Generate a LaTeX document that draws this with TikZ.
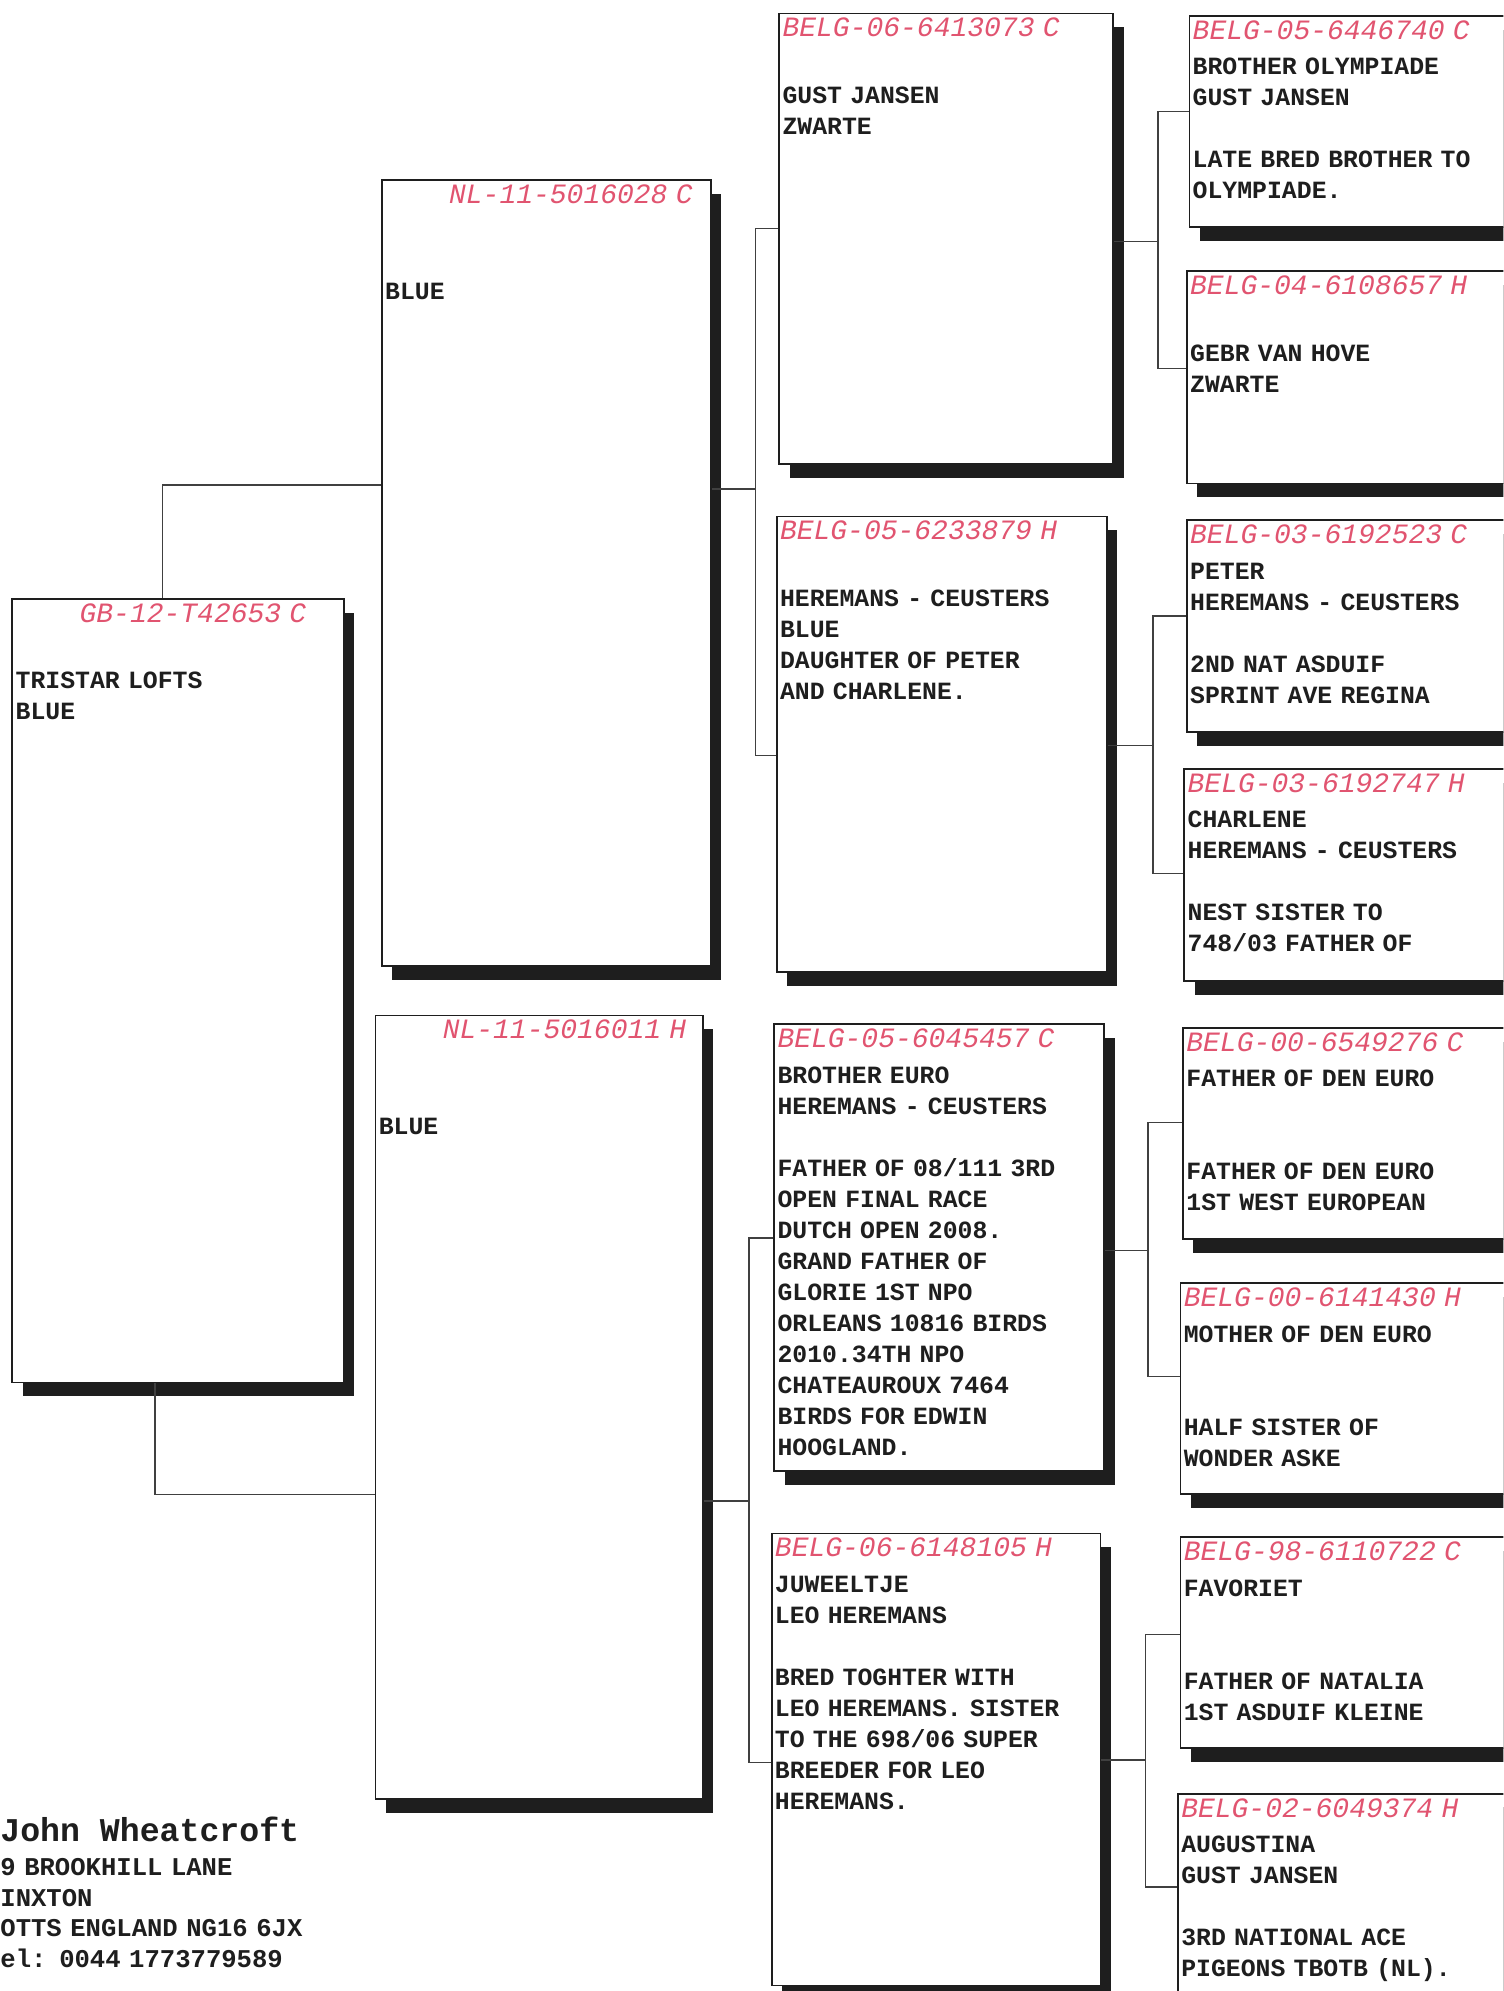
\documentclass[tikz,border=0pt]{standalone}
\usepackage{fontspec}
\usetikzlibrary{positioning, shadows}

\newfontfamily\pedmono{Liberation Mono}
\definecolor{pedred}{RGB}{225,84,112}
\definecolor{ink}{RGB}{30,30,30}
\newcommand{\bodyfont}{\pedmono\bfseries\fontsize{12.4}{15.5}\selectfont}
\newcommand{\ringno}[1]{{\pedmono\mdseries\itshape\fontsize{14}{15.5}\selectfont\color{pedred}#1}}

\begin{document}
\begin{tikzpicture}[x=0.635pt, y=-0.635pt,
      bird/.style={draw=ink, line width=0.9pt, fill=white, anchor=north west, inner sep=0pt,
        drop shadow={shadow xshift=5.2pt, shadow yshift=-6.8pt, fill=ink, opacity=1}},
      sz/.style 2 args={minimum width=#1*0.635pt, minimum height=#2*0.635pt},
      txt/.style={anchor=base west, inner sep=0pt, text width=190pt, align=left, font=\bodyfont, text=ink},
      link/.style={draw=ink!85, line width=0.7pt}]

    \useasboundingbox (0,0) rectangle (1184,1568);
    \clip (0,0) rectangle (1184,1568);

    % subject and parents
    \node[bird, sz={261}{617}] (subj) at (9,471)   {};
    \node[bird, sz={259}{619}] (sire) at (300,141) {};
    \node[bird, sz={258}{617}] (dam)  at (295,799) {};

    % grandparents
    \node[bird, sz={263}{355}] (ss) at (613,10)   {};
    \node[bird, sz={260}{359}] (sd) at (611,406)  {};
    \node[bird, sz={260}{352}] (ds) at (609,806)  {};
    \node[bird, sz={259}{356}] (dd) at (607,1207) {};

    % great-grandparents (run off the right edge)
    \node[bird, sz={300}{166}] (sss) at (936,12)   {};
    \node[bird, sz={300}{167}] (ssd) at (934,213)  {};
    \node[bird, sz={300}{167}] (sds) at (934,409)  {};
    \node[bird, sz={300}{167}] (sdd) at (932,605)  {};
    \node[bird, sz={300}{166}] (dss) at (931,809)  {};
    \node[bird, sz={300}{166}] (dsd) at (929,1010) {};
    \node[bird, sz={300}{166}] (dds) at (929,1210) {};
    \node[bird, sz={300}{166}] (ddd) at (927,1412) {};

    % texts
    \node[txt] (subj-t) at ([shift={(3,19)}]subj.north west)
        {\hspace*{32pt}\ringno{GB-12-T42653 C}\\[17.8pt]TRISTAR LOFTS\\BLUE};
    \node[txt] (sire-t) at ([shift={(3,19)}]sire.north west)
        {\hspace*{32pt}\ringno{NL-11-5016028 C}\\[32.6pt]BLUE};
    \node[txt] (dam-t) at ([shift={(3,19)}]dam.north west)
        {\hspace*{32pt}\ringno{NL-11-5016011 H}\\[32.6pt]BLUE};

    \node[txt] (ss-t) at ([shift={(3,19)}]ss.north west)
        {\ringno{BELG-06-6413073 C}\\[17.8pt]GUST JANSEN\\ZWARTE};
    \node[txt] (sd-t) at ([shift={(3,19)}]sd.north west)
        {\ringno{BELG-05-6233879 H}\\[17.8pt]HEREMANS - CEUSTERS\\BLUE\\DAUGHTER OF PETER\\AND CHARLENE.};
    \node[txt] (ds-t) at ([shift={(3,19)}]ds.north west)
        {\ringno{BELG-05-6045457 C}\\[2.3pt]BROTHER EURO\\HEREMANS - CEUSTERS\\[15.5pt]FATHER OF 08/111 3RD\\OPEN FINAL RACE\\DUTCH OPEN 2008.\\GRAND FATHER OF\\GLORIE 1ST NPO\\ORLEANS 10816 BIRDS\\2010.34TH NPO\\CHATEAUROUX 7464\\BIRDS FOR EDWIN\\HOOGLAND.};
    \node[txt] (dd-t) at ([shift={(3,19)}]dd.north west)
        {\ringno{BELG-06-6148105 H}\\[2.3pt]JUWEELTJE\\LEO HEREMANS\\[15.5pt]BRED TOGHTER WITH\\LEO HEREMANS. SISTER\\TO THE 698/06 SUPER\\BREEDER FOR LEO\\HEREMANS.};

    \node[txt] (sss-t) at ([shift={(3,19)}]sss.north west)
        {\ringno{BELG-05-6446740 C}\\[2.3pt]BROTHER OLYMPIADE\\GUST JANSEN\\[15.5pt]LATE BRED BROTHER TO\\OLYMPIADE.};
    \node[txt] (ssd-t) at ([shift={(3,19)}]ssd.north west)
        {\ringno{BELG-04-6108657 H}\\[17.8pt]GEBR VAN HOVE\\ZWARTE};
    \node[txt] (sds-t) at ([shift={(3,19)}]sds.north west)
        {\ringno{BELG-03-6192523 C}\\[2.3pt]PETER\\HEREMANS - CEUSTERS\\[15.5pt]2ND NAT ASDUIF\\SPRINT AVE REGINA};
    \node[txt] (sdd-t) at ([shift={(3,19)}]sdd.north west)
        {\ringno{BELG-03-6192747 H}\\[2.3pt]CHARLENE\\HEREMANS - CEUSTERS\\[15.5pt]NEST SISTER TO\\748/03 FATHER OF};
    \node[txt] (dss-t) at ([shift={(3,19)}]dss.north west)
        {\ringno{BELG-00-6549276 C}\\[2.3pt]FATHER OF DEN EURO\\[31pt]FATHER OF DEN EURO\\1ST WEST EUROPEAN};
    \node[txt] (dsd-t) at ([shift={(3,19)}]dsd.north west)
        {\ringno{BELG-00-6141430 H}\\[2.3pt]MOTHER OF DEN EURO\\[31pt]HALF SISTER OF\\WONDER ASKE};
    \node[txt] (dds-t) at ([shift={(3,19)}]dds.north west)
        {\ringno{BELG-98-6110722 C}\\[2.3pt]FAVORIET\\[31pt]FATHER OF NATALIA\\1ST ASDUIF KLEINE};
    \node[txt] (ddd-t) at ([shift={(3,19)}]ddd.north west)
        {\ringno{BELG-02-6049374 H}\\[2.3pt]AUGUSTINA\\GUST JANSEN\\[15.5pt]3RD NATIONAL ACE\\PIGEONS TBOTB (NL).};

    % owner
    \node[font=\pedmono\bfseries\fontsize{16.6}{20}\selectfont, text=ink, anchor=base west, inner sep=0pt]
        (owner) at (0,1450) {John Wheatcroft};
    \node[txt, text width=250pt, font=\pedmono\bfseries\fontsize{12.8}{15.3}\selectfont] (addr) at (0,1477)
        {9 BROOKHILL LANE\\INXTON\\OTTS ENGLAND NG16 6JX\\el: 0044 1773779589};

    % brackets
    \coordinate (sj)  at (595,385);
    \coordinate (dj)  at (590,1182);
    \coordinate (ssj) at (912,190);
    \coordinate (sdj) at (908,587);
    \coordinate (dsj) at (904,985);
    \coordinate (ddj) at (902,1386);

    \draw[link] (subj.north -| 128,0) |- (sire.west |- 0,382);
    \draw[link] (subj.south -| 122,0) |- (dam.west |- 0,1177);

    \draw[link] (sire.east |- sj) -- (sj);
    \draw[link] (ss.west |- 0,180) -| (sj) |- (sd.west |- 0,595);
    \draw[link] (dam.east |- dj) -- (dj);
    \draw[link] (ds.west |- 0,975) -| (dj) |- (dd.west |- 0,1388);

    \draw[link] (ss.east |- ssj) -- (ssj);
    \draw[link] (sss.west |- 0,88) -| (ssj) |- (ssd.west |- 0,290);
    \draw[link] (sd.east |- sdj) -- (sdj);
    \draw[link] (sds.west |- 0,485) -| (sdj) |- (sdd.west |- 0,688);
    \draw[link] (ds.east |- dsj) -- (dsj);
    \draw[link] (dss.west |- 0,884) -| (dsj) |- (dsd.west |- 0,1084);
    \draw[link] (dd.east |- ddj) -- (ddj);
    \draw[link] (dds.west |- 0,1287) -| (ddj) |- (ddd.west |- 0,1486);

\end{tikzpicture}
\end{document}
